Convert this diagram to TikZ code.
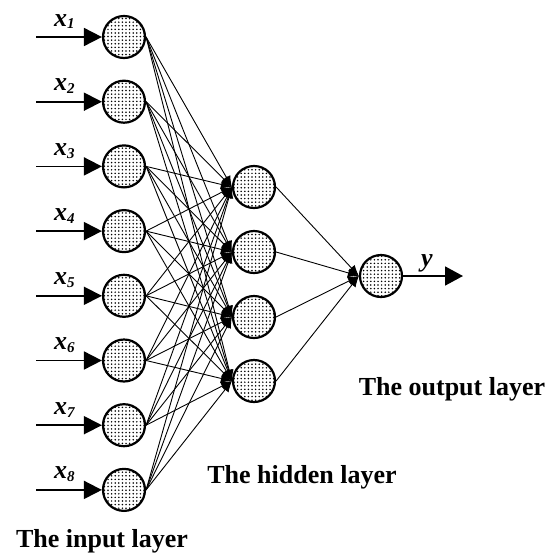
\documentclass[tikz,border=0pt]{standalone}
\usepackage{fontspec}
\setmainfont{Liberation Serif}
\usetikzlibrary{arrows.meta,patterns.meta}
\tikzdeclarepattern{
  name=mydots,
  type=uncolored,
  bounding box={(-1pt,-1pt) and (1pt,1pt)},
  tile size={(3.6pt,3.6pt)},
  code={\pgfpathcircle{\pgfpointorigin}{0.85pt}\pgfusepath{fill}}
}
\tikzset{
  neuron/.style={circle,draw,line width=2.2pt,minimum size=42pt,inner sep=0pt,pattern=mydots},
  inarrow/.style={line width=1.8pt,-{Triangle[length=18pt,width=18pt]}},
  link/.style={line width=0.9pt,-{Latex[length=11pt,width=9pt]}},
  layerlabel/.style={anchor=base,font=\fontsize{26}{30}\selectfont\bfseries,inner sep=0pt},
  varlabel/.style={anchor=base west,inner sep=0pt,font=\fontsize{26}{28}\selectfont\bfseries\itshape}
}
\newcommand{\subidx}[1]{\raisebox{-0.25ex}{\fontsize{15}{16}\selectfont\bfseries\itshape #1}}
\begin{document}
\begin{tikzpicture}[x=1pt,y=-1pt]
\useasboundingbox (0,0) rectangle (555,555);
\foreach \i in {1,...,8} {
  \pgfmathsetmacro\yy{37+64.7*(\i-1)}
  \node[neuron] (i\i) at (124,\yy) {};
  \coordinate (s\i) at (36,\yy);
  \draw[inarrow] (s\i) -- (i\i.west);
  \node[varlabel] (l\i) at (54,\yy-11) {x\subidx{\i}};
}
\foreach \j/\yy in {1/187,2/252,3/317,4/381} {
  \node[neuron] (h\j) at (254,\yy) {};
}
\node[neuron] (o) at (381,276) {};
\foreach \i in {1,...,8} {
  \foreach \j in {1,...,4} {
    \draw[link] (i\i.east) -- (h\j.west);
  }
}
\foreach \j in {1,...,4} {
  \draw[link] (h\j.east) -- (o.west);
}
\coordinate (e) at (463,276);
\draw[line width=1.8pt,-{Triangle[length=18pt,width=19pt]}] (o.east) -- (e);
\node[varlabel] (ylab) at (421,266) {y};
\node[layerlabel] (tin) at (102,547) {The input layer};
\node[layerlabel] (thid) at (302,483) {The hidden layer};
\node[layerlabel] (tout) at (452,395) {The output layer};
\end{tikzpicture}
\end{document}
